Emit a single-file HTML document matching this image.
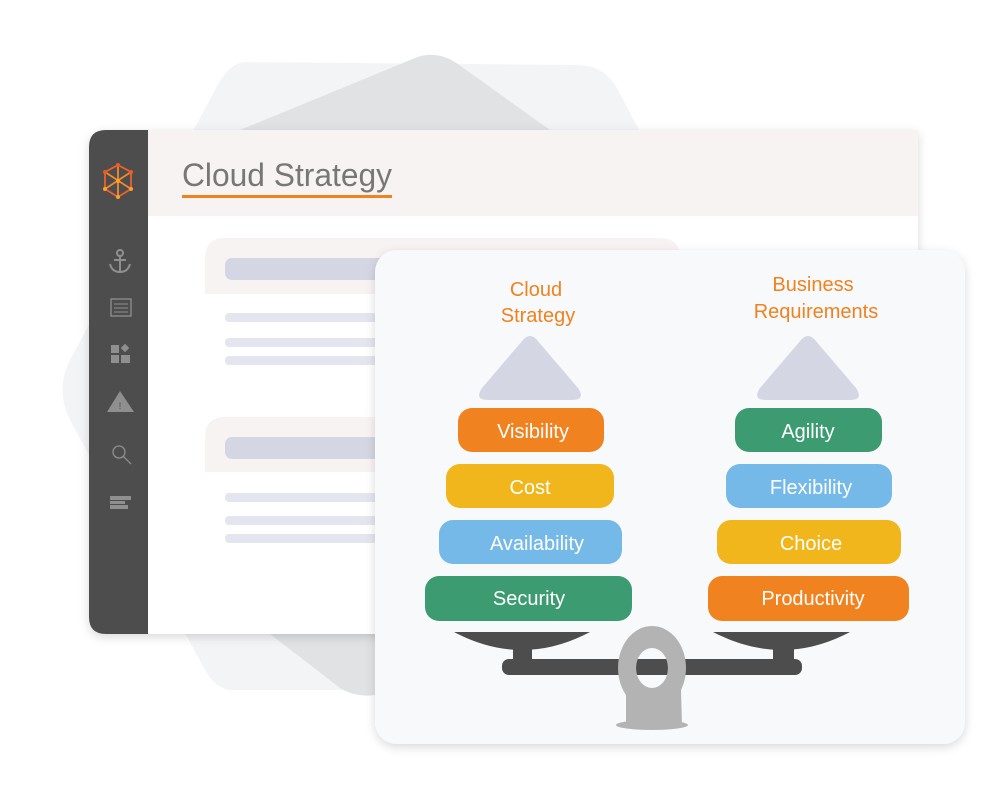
<!DOCTYPE html>
<html><head><style>
body{margin:0;width:1000px;height:800px;background:#fff;overflow:hidden;font-family:"Liberation Sans",sans-serif}
</style></head><body>
<svg width="1000" height="800" viewBox="0 0 1000 800" xmlns="http://www.w3.org/2000/svg" style="position:absolute;left:0;top:0">
<defs>
<filter id="sh" x="-10%" y="-10%" width="120%" height="120%"><feDropShadow dx="0" dy="3" stdDeviation="5" flood-color="#000" flood-opacity="0.15"/></filter>
<clipPath id="hole"><ellipse cx="652" cy="668" rx="16" ry="20"/></clipPath>
</defs>
<!-- background hexagons -->
<path d="M245,62 L580,65 Q605,66 618,90 L660,170 L660,600 L600,690 L230,690 Q215,688 205,670 L70,420 Q55,390 70,360 L215,90 Q228,63 245,62 Z" fill="#f3f4f6"/>
<path d="M240,130 L415,58 Q435,50 455,62 L550,130 L550,650 L385,693 Q360,700 340,688 L270,634 Z" fill="#e1e2e4"/>
<!-- main window -->
<g filter="url(#sh)">
<path d="M106,130 L918,130 L918,634 L106,634 Q89,634 89,617 L89,147 Q89,130 106,130 Z" fill="#fff"/>
</g>
<path d="M106,130 L148,130 L148,634 L106,634 Q89,634 89,617 L89,147 Q89,130 106,130 Z" fill="#4d4d4d"/>
<rect x="148" y="130" width="770" height="86" fill="#f8f3f3"/>
<text x="182" y="186" font-size="32" fill="#777" textLength="210" lengthAdjust="spacingAndGlyphs">Cloud Strategy</text>
<rect x="182" y="195" width="210" height="3" fill="#f0821f"/>
<!-- logo -->
<g stroke-width="1.8" fill="none">
<polygon points="118,165 131,172 131,189 118,197 105,189 105,172" stroke="#f0602a"/>
<path d="M118,165 L118,197 M105,172 L131,189 M131,172 L105,189" stroke="#f28a2a"/>
</g>
<g fill="#f05a28"><circle cx="118" cy="165" r="2"/><circle cx="131" cy="172" r="2"/><circle cx="105" cy="172" r="2"/></g>
<g fill="#f7a330"><circle cx="118" cy="197" r="2"/><circle cx="131" cy="189" r="2"/><circle cx="105" cy="189" r="2"/><circle cx="118" cy="181" r="2"/></g>
<!-- sidebar icons -->
<g stroke="#8f8f8f" stroke-width="2" fill="none">
<circle cx="120" cy="253" r="3"/><path d="M120,256 L120,272 M114,260 L126,260 M110,264 Q112,272 120,272 Q128,272 130,264"/>
<rect x="111" y="299" width="20" height="17" stroke-width="1.3"/>
<path d="M114,304 H128 M114,308 H128 M114,312 H128" stroke-width="1"/>
<circle cx="119" cy="452" r="6" stroke-width="1.3"/><path d="M123,456 L131,464" stroke-width="1.3"/>
</g>
<g fill="#8f8f8f">
<rect x="111" y="345" width="8" height="8"/><rect x="111" y="355" width="8" height="8"/><rect x="121" y="355" width="9" height="8"/>
<rect x="122" y="345" width="6" height="6" transform="rotate(45 125 348)"/>
<polygon points="120,391 134,412 107,412"/>
<rect x="110" y="496" width="21" height="4"/><rect x="110" y="501" width="15" height="3"/><rect x="110" y="505" width="18" height="4"/>
</g>
<text x="120" y="409" font-size="9" fill="#4d4d4d" text-anchor="middle">!</text>
<!-- cards -->
<path d="M225,238 L660,238 Q680,238 680,258 L680,294 L205,294 L205,258 Q205,238 225,238 Z" fill="#f8f3f3"/>
<rect x="225" y="258" width="200" height="22" rx="7" fill="#d5d6e3"/>
<rect x="225" y="313" width="200" height="9" rx="4" fill="#e4e5ee"/>
<rect x="225" y="338" width="200" height="9" rx="4" fill="#e4e5ee"/>
<rect x="225" y="356" width="200" height="9" rx="4" fill="#e4e5ee"/>
<path d="M225,417 L660,417 Q680,417 680,437 L680,472 L205,472 L205,437 Q205,417 225,417 Z" fill="#f8f3f3"/>
<rect x="225" y="437" width="200" height="22" rx="7" fill="#d5d6e3"/>
<rect x="225" y="493" width="200" height="9" rx="4" fill="#e4e5ee"/>
<rect x="225" y="516" width="200" height="9" rx="4" fill="#e4e5ee"/>
<rect x="225" y="534" width="200" height="9" rx="4" fill="#e4e5ee"/>
<!-- front panel -->
<rect x="375" y="250" width="590" height="494" rx="22" fill="#f7f9fa" filter="url(#sh)"/>
<g font-size="20" fill="#f0821f" text-anchor="middle">
<text x="536" y="296">Cloud</text><text x="538" y="322">Strategy</text>
<text x="813" y="291">Business</text><text x="816" y="318">Requirements</text>
</g>
<path d="M523,340 Q530,332 537,340 L578,388 Q586,400 572,400 L488,400 Q474,400 482,388 Z" fill="#d5d6e3"/>
<path d="M801,340 Q808,332 815,340 L856,388 Q864,400 850,400 L766,400 Q752,400 760,388 Z" fill="#d5d6e3"/>
<g font-size="20" fill="#fff" text-anchor="middle">
<rect x="458" y="408" width="146" height="44" rx="14" fill="#f0821f"/><text x="533" y="438">Visibility</text>
<rect x="446" y="464" width="168" height="44" rx="14" fill="#f1b61b"/><text x="530" y="494">Cost</text>
<rect x="439" y="520" width="183" height="44" rx="14" fill="#74b9e7"/><text x="537" y="550">Availability</text>
<rect x="425" y="576" width="207" height="45" rx="14" fill="#3d9b72"/><text x="529" y="605">Security</text>
<rect x="735" y="408" width="147" height="44" rx="14" fill="#3d9b72"/><text x="808" y="438">Agility</text>
<rect x="726" y="464" width="166" height="44" rx="14" fill="#74b9e7"/><text x="811" y="494">Flexibility</text>
<rect x="717" y="520" width="184" height="44" rx="14" fill="#f1b61b"/><text x="811" y="550">Choice</text>
<rect x="708" y="576" width="201" height="45" rx="14" fill="#f0821f"/><text x="813" y="605">Productivity</text>
</g>
<!-- scale -->
<g fill="#4d4d4d">
<path d="M454,632 L590,632 Q522,668 454,632 Z"/>
<path d="M713,632 L850,632 Q782,668 713,632 Z"/>
<rect x="513" y="645" width="19" height="16"/>
<rect x="773" y="645" width="21" height="16"/>
<rect x="502" y="659" width="300" height="16" rx="7"/>
</g>
<g fill="#b3b3b3">
<ellipse cx="652" cy="668" rx="34" ry="42"/>
<path d="M626,690 L681,690 L682,726 L626,726 Z"/>
<ellipse cx="652" cy="725" rx="36" ry="5"/>
</g>
<ellipse cx="652" cy="668" rx="16" ry="20" fill="#f7f9fa"/>
<rect x="630" y="659" width="50" height="16" fill="#4d4d4d" clip-path="url(#hole)"/>
</svg>
</body></html>
